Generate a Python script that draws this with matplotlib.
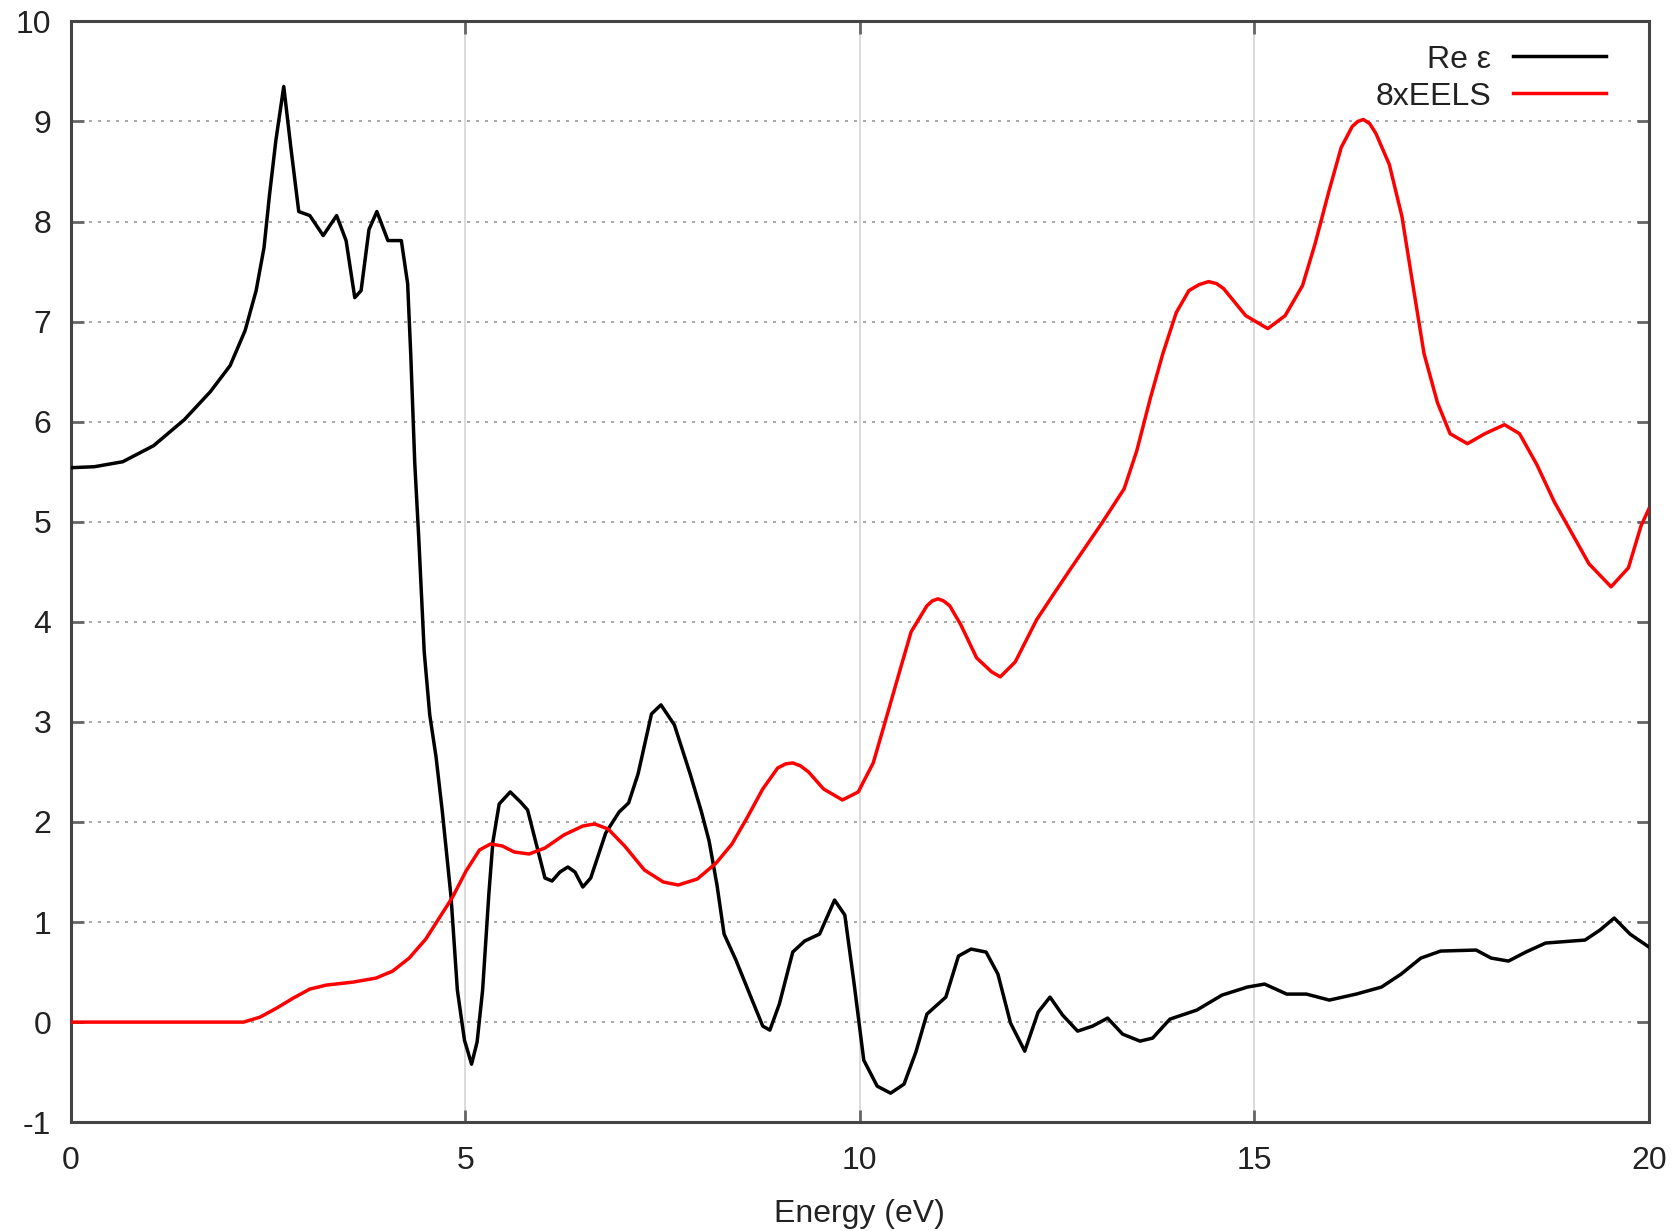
import matplotlib
matplotlib.use("Agg")
import matplotlib.pyplot as plt

plt.rcParams['font.family'] = ['Liberation Sans', 'DejaVu Sans']
plt.rcParams['axes.unicode_minus'] = False

# Re epsilon (black curve)
re_eps_energy = [
    0.00, 0.30, 0.66, 1.05, 1.44, 1.77, 2.02, 2.21, 2.35, 2.45,
    2.52, 2.60, 2.70, 2.79, 2.89, 3.03, 3.20, 3.37, 3.49, 3.60,
    3.68, 3.78, 3.88, 4.02, 4.19, 4.27, 4.31, 4.36, 4.41, 4.48,
    4.55, 4.63, 4.71, 4.82, 4.90, 4.99, 5.08, 5.15, 5.22, 5.30,
    5.35, 5.43, 5.57, 5.70, 5.79, 5.89, 6.01, 6.10, 6.20, 6.30,
    6.39, 6.49, 6.59, 6.78, 6.95, 7.07, 7.19, 7.36, 7.48, 7.65,
    7.85, 7.99, 8.09, 8.19, 8.28, 8.43, 8.62, 8.77, 8.86, 8.98,
    9.15, 9.30, 9.49, 9.68, 9.81, 9.93, 10.05, 10.22, 10.39, 10.56,
    10.71, 10.85, 11.09, 11.25, 11.41, 11.60, 11.75, 11.91, 12.09, 12.26,
    12.41, 12.57, 12.76, 12.95, 13.14, 13.33, 13.55, 13.71, 13.93, 14.27,
    14.59, 14.91, 15.13, 15.41, 15.66, 15.95, 16.29, 16.61, 16.86, 17.11,
    17.36, 17.81, 18.00, 18.22, 18.44, 18.69, 19.19, 19.38, 19.56, 19.76,
    20.00,
]
re_eps_value = [
    5.54, 5.55, 5.60, 5.76, 6.02, 6.30, 6.56, 6.91, 7.31, 7.74,
    8.27, 8.81, 9.35, 8.74, 8.10, 8.06, 7.86, 8.06, 7.81, 7.24,
    7.31, 7.92, 8.10, 7.81, 7.81, 7.38, 6.66, 5.59, 4.85, 3.70,
    3.07, 2.65, 2.10, 1.25, 0.32, -0.18, -0.42, -0.20, 0.32, 1.29,
    1.80, 2.18, 2.30, 2.20, 2.12, 1.81, 1.44, 1.41, 1.50, 1.55,
    1.50, 1.35, 1.44, 1.89, 2.10, 2.19, 2.48, 3.08, 3.17, 2.97,
    2.48, 2.11, 1.81, 1.37, 0.88, 0.62, 0.25, -0.04, -0.08, 0.18,
    0.70, 0.81, 0.88, 1.22, 1.07, 0.37, -0.38, -0.64, -0.71, -0.62,
    -0.30, 0.08, 0.25, 0.66, 0.73, 0.70, 0.48, -0.01, -0.29, 0.10,
    0.25, 0.07, -0.09, -0.04, 0.04, -0.12, -0.19, -0.16, 0.03, 0.12,
    0.27, 0.35, 0.38, 0.28, 0.28, 0.22, 0.28, 0.35, 0.48, 0.64,
    0.71, 0.72, 0.64, 0.61, 0.70, 0.79, 0.82, 0.92, 1.04, 0.88,
    0.75,
]

# 8 x EELS (red curve)
eels_energy = [
    0.00, 1.00, 2.00, 2.19, 2.40, 2.61, 2.82, 3.03, 3.24, 3.58,
    3.87, 4.08, 4.29, 4.50, 4.67, 4.84, 5.01, 5.18, 5.32, 5.47,
    5.62, 5.81, 6.01, 6.25, 6.49, 6.64, 6.81, 7.02, 7.27, 7.51,
    7.70, 7.94, 8.18, 8.38, 8.57, 8.77, 8.96, 9.06, 9.15, 9.25,
    9.35, 9.54, 9.78, 9.98, 10.17, 10.31, 10.51, 10.65, 10.85, 10.92,
    10.99, 11.06, 11.14, 11.28, 11.48, 11.67, 11.78, 11.97, 12.24, 12.45,
    12.68, 13.07, 13.35, 13.51, 13.68, 13.84, 14.01, 14.17, 14.30, 14.42,
    14.52, 14.61, 14.89, 15.17, 15.39, 15.61, 15.77, 15.94, 16.10, 16.24,
    16.31, 16.38, 16.46, 16.54, 16.71, 16.87, 17.01, 17.15, 17.32, 17.48,
    17.70, 17.92, 18.17, 18.36, 18.58, 18.80, 19.02, 19.24, 19.52, 19.74,
    19.90, 20.00,
]
eels_value = [
    0.00, 0.00, 0.00, 0.00, 0.05, 0.14, 0.24, 0.33, 0.37, 0.40,
    0.44, 0.51, 0.64, 0.83, 1.04, 1.25, 1.51, 1.72, 1.78, 1.76,
    1.70, 1.68, 1.74, 1.87, 1.96, 1.98, 1.93, 1.76, 1.52, 1.40,
    1.37, 1.43, 1.59, 1.78, 2.04, 2.33, 2.54, 2.58, 2.59, 2.56,
    2.50, 2.33, 2.22, 2.30, 2.59, 2.97, 3.52, 3.90, 4.16, 4.21,
    4.23, 4.21, 4.16, 3.97, 3.64, 3.50, 3.45, 3.60, 4.02, 4.27,
    4.54, 4.99, 5.33, 5.71, 6.23, 6.68, 7.09, 7.31, 7.37, 7.40,
    7.38, 7.33, 7.06, 6.93, 7.06, 7.36, 7.78, 8.29, 8.74, 8.95,
    9.00, 9.02, 8.98, 8.88, 8.57, 8.05, 7.36, 6.68, 6.19, 5.88,
    5.78, 5.88, 5.97, 5.88, 5.57, 5.20, 4.89, 4.58, 4.35, 4.54,
    4.96, 5.13,
]

x_ticks = [0, 5, 10, 15, 20]
y_ticks = [-1, 0, 1, 2, 3, 4, 5, 6, 7, 8, 9, 10]

fig = plt.figure(figsize=(16.79, 12.31), dpi=100)
ax = fig.add_axes([0.0421, 0.0884, 0.9400, 0.8942])

# gnuplot-like grid: dotted horizontals, faint verticals
for y in y_ticks[1:-1]:
    ax.axhline(y, color='#aaaaaa', lw=1.44, ls=(0, (1.5, 3)), zorder=1)
for x in x_ticks[1:-1]:
    ax.axvline(x, color='#d4d4d4', lw=1.2, zorder=1)

ax.plot(re_eps_energy, re_eps_value, color='black', lw=2.5, label='Re ε',
        solid_joinstyle='round', zorder=3)
ax.plot(eels_energy, eels_value, color='#ff0000', lw=2.5, label='8xEELS',
        solid_joinstyle='round', zorder=3)

ax.set_xlim(0, 20)
ax.set_ylim(-1, 10)
ax.set_xticks(x_ticks)
ax.set_yticks(y_ticks)
ax.tick_params(direction='in', top=True, right=True, length=9, width=2,
               color='#666666', labelsize=23, labelcolor='#222222')
ax.tick_params(axis='y', pad=14)
ax.tick_params(axis='x', pad=17)
for s in ax.spines.values():
    s.set_color('#444444')
    s.set_linewidth(2.2)

fig.text(0.512, 0.0075, 'Energy (eV)', ha='center', va='baseline',
         fontsize=23, color='#222222')

leg = ax.legend(loc='upper right', bbox_to_anchor=(0.9728, 0.979), frameon=False,
                markerfirst=False, fontsize=23, handlelength=2.9, handletextpad=0.7,
                labelspacing=0.22, borderpad=0, borderaxespad=0)
for t in leg.get_texts():
    t.set_color('#222222')

fig.savefig('out.png', dpi=100)
